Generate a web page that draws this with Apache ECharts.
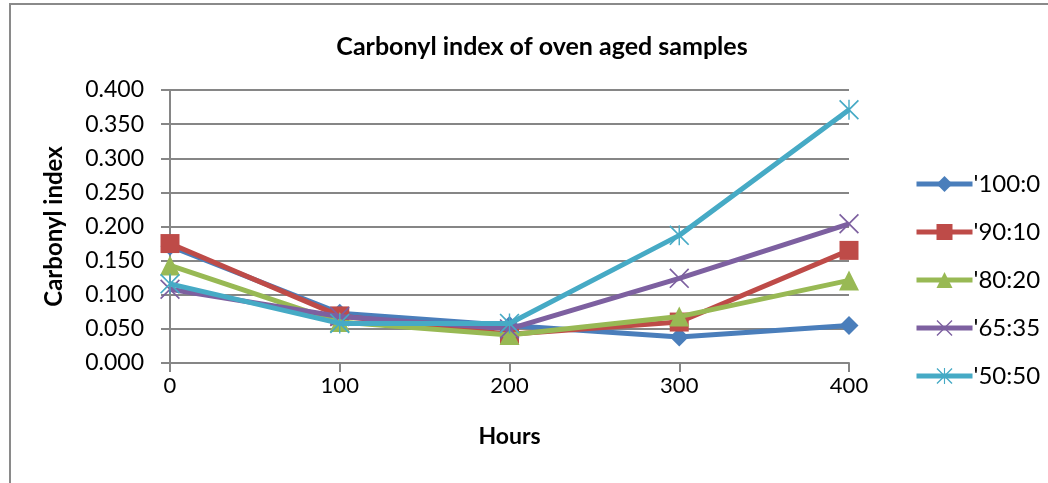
<!DOCTYPE html>
<html><head><meta charset="utf-8">
<script src="https://cdn.jsdelivr.net/npm/echarts@6/dist/echarts.min.js"></script>
<style>html,body{margin:0;padding:0;background:#fff}#c{width:1048px;height:483px}</style>
</head><body><div id="c"></div>
<script>
var hours = ['0', '100', '200', '300', '400'];
var seriesNames = ["'100:0", "'90:10", "'80:20", "'65:35", "'50:50"];
var s100_0 = [0.171, 0.073, 0.055, 0.038, 0.055];
var s90_10 = [0.175, 0.069, 0.042, 0.060, 0.165];
var s80_20 = [0.143, 0.060, 0.041, 0.068, 0.121];
var s65_35 = [0.108, 0.068, 0.050, 0.124, 0.204];
var s50_50 = [0.116, 0.058, 0.058, 0.187, 0.371];
var yTicks = [0, 0.05, 0.1, 0.15, 0.2, 0.25, 0.3, 0.35, 0.4];

var colors = ['#4A7EBB', '#BE4B48', '#98B954', '#7D60A0', '#46AAC5'];
var xPath = 'path://M0,1.2 L1.2,0 L10,8.8 L18.8,0 L20,1.2 L11.2,10 L20,18.8 L18.8,20 L10,11.2 L1.2,20 L0,18.8 L8.8,10 Z';
var starPath = xPath.replace(' Z', ' Z M9.3,0 L10.7,0 L10.7,20 L9.3,20 Z');
var symbols = ['diamond', 'rect', 'triangle', xPath, starPath];
var sizes = [19, 19, 20, 20, 20];
var allData = [s100_0, s90_10, s80_20, s65_35, s50_50];
var font = 'Lato, "Open Sans", sans-serif';

var chart = echarts.init(document.getElementById('c'), null, {renderer: 'canvas'});
chart.setOption({
  animation: false,
  backgroundColor: '#fff',
  color: colors,
  title: {
    text: 'Carbonyl index of oven aged samples',
    left: 537, top: 29, textAlign: 'center',
    textStyle: {fontFamily: font, fontWeight: 'bold', fontSize: 25, color: '#000'}
  },
  graphic: [{
    type: 'rect', shape: {x: 10, y: 4, width: 1100, height: 600},
    style: {fill: 'none', stroke: '#8a8a8a', lineWidth: 2}, silent: true
  }],
  legend: {
    orient: 'vertical', left: 909, top: 167,
    itemWidth: 56, itemHeight: 20, itemGap: 24,
    lineStyle: {width: 5},
    textStyle: {fontFamily: font, fontSize: 24, color: '#000', padding: [0, 0, 0, -4]},
    data: seriesNames
  },
  grid: {left: 170, right: 199, top: 90, bottom: 120, containLabel: false},
  xAxis: {
    type: 'category', data: hours, boundaryGap: false,
    name: 'Hours', nameLocation: 'middle', nameGap: 62,
    nameTextStyle: {fontFamily: font, fontWeight: 'bold', fontSize: 23, color: '#000'},
    axisLine: {lineStyle: {color: '#868686', width: 2}},
    axisTick: {show: true, inside: false, length: 9, lineStyle: {color: '#868686', width: 2}},
    axisLabel: {fontFamily: font, fontSize: 22, color: '#000', margin: 12},
    splitLine: {show: false}
  },
  yAxis: {
    type: 'value', min: 0, max: 0.4, interval: 0.05,
    name: 'Carbonyl index', nameLocation: 'middle', nameGap: 104, nameRotate: 90,
    nameTextStyle: {fontFamily: font, fontWeight: 'bold', fontSize: 24, color: '#000'},
    axisLine: {show: true, lineStyle: {color: '#868686', width: 2}},
    axisTick: {show: true, inside: false, length: 9, lineStyle: {color: '#868686', width: 2}},
    axisLabel: {fontFamily: font, fontSize: 23, color: '#000', margin: 26,
      formatter: function (v) { return v.toFixed(3); }},
    splitLine: {show: true, lineStyle: {color: '#868686', width: 2}}
  },
  series: seriesNames.map(function (n, i) {
    return {
      name: n, type: 'line', data: allData[i],
      symbol: symbols[i], symbolSize: sizes[i], showSymbol: true,
      lineStyle: {width: 5, color: colors[i]},
      itemStyle: {color: colors[i], borderWidth: 0},
      z: 2 + i
    };
  })
});
</script></body></html>
